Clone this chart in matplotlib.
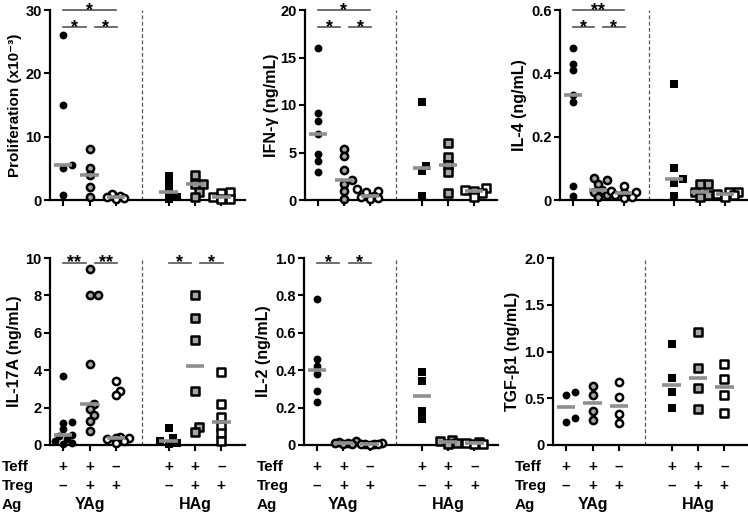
import numpy as np
import matplotlib.pyplot as plt
from matplotlib.transforms import blended_transform_factory

plt.rcParams['font.family'] = ['Liberation Sans', 'DejaVu Sans']
plt.rcParams['font.weight'] = 'bold'

# groups: YAg (Teff, Teff+Treg, Treg) | HAg (Teff, Teff+Treg, Treg)
positions = [1, 2, 3, 5, 6, 7]
teff_signs = ['+', '+', '–', '+', '+', '–']
treg_signs = ['–', '+', '+', '–', '+', '+']
ag_labels = ['YAg', 'HAg']
ag_centers = [2, 6]

# values per group
prolif = [[26.1, 15.0, 5.5, 5.1, 0.8],
          [8.0, 5.1, 3.9, 2.0, 0.5],
          [0.9, 0.7, 0.4, 0.3, 0.1],
          [3.8, 2.6, 1.2, 0.4, 0.1],
          [3.9, 2.6, 2.5, 1.3, 0.5],
          [1.3, 1.1, 0.5, 0.2, 0.1]]
ifng = [[16.0, 9.2, 8.3, 6.9, 4.8, 4.1, 2.9],
        [5.4, 4.6, 3.2, 2.1, 1.7, 0.9, 0.1],
        [1.2, 1.0, 0.8, 0.4, 0.3, 0.2, 0.1],
        [10.3, 3.6, 3.1, 0.4],
        [6.0, 4.5, 3.7, 3.0, 0.7],
        [1.3, 1.1, 1.0, 0.7, 0.3]]
il4 = [[0.48, 0.43, 0.41, 0.33, 0.31, 0.044, 0.014],
       [0.068, 0.064, 0.052, 0.032, 0.025, 0.015, 0.008],
       [0.045, 0.028, 0.026, 0.022, 0.015, 0.01, 0.005],
       [0.365, 0.1, 0.065, 0.055, 0.012],
       [0.05, 0.05, 0.026, 0.015, 0.008],
       [0.025, 0.024, 0.02, 0.015, 0.01]]
il17a = [[3.7, 1.25, 1.2, 0.85, 0.55, 0.5, 0.3, 0.2, 0.1, 0.05],
         [9.4, 8.0, 8.0, 4.35, 2.2, 1.9, 1.6, 1.3, 0.75],
         [3.4, 2.9, 2.65, 0.42, 0.4, 0.35, 0.3, 0.2, 0.1],
         [0.9, 0.35, 0.2, 0.1, 0.05],
         [8.0, 6.8, 5.6, 2.9, 0.95, 0.7],
         [3.9, 2.2, 1.5, 1.0, 0.65, 0.2]]
il2 = [[0.78, 0.46, 0.42, 0.38, 0.29, 0.23],
       [0.02, 0.015, 0.012, 0.01, 0.008, 0.005],
       [0.01, 0.008, 0.006, 0.005, 0.004, 0.002],
       [0.39, 0.34, 0.18, 0.14],
       [0.025, 0.02, 0.01, 0.005],
       [0.015, 0.012, 0.008, 0.005]]
tgfb1 = [[0.57, 0.53, 0.29, 0.25],
         [0.63, 0.54, 0.36, 0.27],
         [0.67, 0.51, 0.33, 0.24],
         [1.08, 0.72, 0.57, 0.40],
         [1.21, 0.82, 0.61, 0.39],
         [0.87, 0.71, 0.54, 0.34]]

# y axis setup
ylabels = ['Proliferation (x10⁻³)', 'IFN-γ (ng/mL)', 'IL-4 (ng/mL)',
           'IL-17A (ng/mL)', 'IL-2 (ng/mL)', 'TGF-β1 (ng/mL)']
yticks = [[0, 10, 20, 30], [0, 5, 10, 15, 20], [0, 0.2, 0.4, 0.6],
          [0, 2, 4, 6, 8, 10], [0, 0.2, 0.4, 0.6, 0.8, 1.0], [0, 0.5, 1.0, 1.5, 2.0]]
yticklabels = [['0', '10', '20', '30'], ['0', '5', '10', '15', '20'],
               ['0', '0.2', '0.4', '0.6'], ['0', '2', '4', '6', '8', '10'],
               ['0', '0.2', '0.4', '0.6', '0.8', '1.0'], ['0', '0.5', '1.0', '1.5', '2.0']]

# significance comparisons (group a, group b, label)
sig_prolif = [(1, 3, '*'), (1, 2, '*'), (2, 3, '*')]
sig_ifng = [(1, 3, '*'), (1, 2, '*'), (2, 3, '*')]
sig_il4 = [(1, 3, '**'), (1, 2, '*'), (2, 3, '*')]
sig_il17a = [(1, 2, '**'), (2, 3, '**'), (5, 6, '*'), (6, 7, '*')]
sig_il2 = [(1, 2, '*'), (2, 3, '*')]
sig_tgfb1 = []

panels = [prolif, ifng, il4, il17a, il2, tgfb1]
sigs = [sig_prolif, sig_ifng, sig_il4, sig_il17a, sig_il2, sig_tgfb1]

# axes boxes in pixels (left, right, top, bottom)
W, H = 748, 513
boxes = [(50, 245, 10, 200), (305, 497, 10, 200), (560, 748, 10, 200),
         (50, 245, 258, 445), (304, 498, 258, 445), (553, 748, 258, 445)]
ylab_dx = [-28, -26, -33, -28, -33, -33]
row_dx = [-48, -47, -38]

faces = ['black', '#a6a6a6', 'white', 'black', '#a6a6a6', 'white']
markers = ['o', 'o', 'o', 's', 's', 's']


def swarm_x(ax, x0, values, diam):
    # spread overlapping points sideways, GraphPad style
    xy = np.column_stack([np.full(len(values), x0), values])
    ypix = ax.transData.transform(xy)[:, 1]
    cands = [0.0]
    for k in range(1, 4):
        cands += [k * 0.5 * diam, -k * 0.5 * diam]
    placed = []
    offs = np.zeros(len(values))
    for i in np.argsort(ypix):
        best, best_d = 0.0, -1.0
        for c in cands:
            d = min([np.hypot(c - px, ypix[i] - py) for px, py in placed] + [1e9])
            if d >= 0.68 * diam:
                best = c
                break
            if d > best_d + 0.5:
                best, best_d = c, d
        placed.append((best, ypix[i]))
        offs[i] = best
    x0_, x1_ = ax.get_xlim()
    return x0 + offs * (x1_ - x0_) / ax.bbox.width


fig = plt.figure(figsize=(W / 100, H / 100), dpi=100)

for p, data in enumerate(panels):
    l, r, t, b = boxes[p]
    ax = fig.add_axes([l / W, (H - b) / H, (r - l) / W, (b - t) / H])
    ymax = yticks[p][-1]
    ax.set_xlim(0.5, 7.9)
    ax.set_ylim(0, ymax)

    for g, vals in enumerate(data):
        x0 = positions[g]
        xs = swarm_x(ax, x0, vals, 8.5)
        if faces[g] == 'black':
            ax.scatter(xs, vals, s=32, marker=markers[g], color='black', linewidths=0,
                       clip_on=False, zorder=3)
        else:
            ax.scatter(xs, vals, s=27, marker=markers[g], facecolor=faces[g],
                       edgecolor='black', linewidths=1.8, clip_on=False, zorder=3)
        ax.hlines(np.median(vals), x0 - 0.35, x0 + 0.35, color='#8f8f8f', lw=2.6,
                  zorder=4, clip_on=False)

    # divider between YAg and HAg
    ax.axvline(4, color='#555555', lw=0.9, ls=(0, (3, 2)), zorder=1)

    # significance bars
    for a, bb, lab in sigs[p]:
        if bb - a > 1:
            level, x1, x2 = ymax, a, bb
        else:
            level = ymax * (0.91 if p < 3 else 0.975)
            if a in (1, 5):
                x1, x2 = a, bb - 0.15
            else:
                x1, x2 = a + 0.2, bb + 0.05
        ax.plot([x1, x2], [level, level], color='#555555', lw=1.2, clip_on=False)
        ax.annotate(lab, xy=((x1 + x2) / 2, level), xytext=(0, -3.5),
                    textcoords='offset points', ha='center', va='baseline',
                    fontsize=13, fontweight='bold', annotation_clip=False)

    ax.set_yticks(yticks[p])
    ax.set_yticklabels(yticklabels[p])
    ax.set_xticks(positions)
    ax.set_xticklabels([])
    ax.tick_params(width=1.5, length=4, labelsize=10.5, pad=2)
    for side in ['top', 'right']:
        ax.spines[side].set_visible(False)
    for side in ['left', 'bottom']:
        ax.spines[side].set_linewidth(1.6)
    ax.set_ylabel(ylabels[p], fontsize=11.5 if p else 11, fontweight='bold')
    ax.yaxis.set_label_coords(ylab_dx[p] / (r - l), 0.5)

    # condition table under the bottom row
    if p >= 3:
        trans = blended_transform_factory(ax.transData, ax.transAxes)
        h = b - t
        rows_y = [-22 / h, -41 / h, -60 / h]
        lx = row_dx[p - 3] / (r - l)
        for txt, yy in zip(['Teff', 'Treg', 'Ag'], rows_y):
            ax.text(lx, yy, txt, transform=ax.transAxes, ha='left', va='center',
                    fontsize=11, fontweight='bold')
        for g in range(6):
            ax.text(positions[g], rows_y[0], teff_signs[g], transform=trans,
                    ha='center', va='center', fontsize=11, fontweight='bold')
            ax.text(positions[g], rows_y[1], treg_signs[g], transform=trans,
                    ha='center', va='center', fontsize=11, fontweight='bold')
        for lab, xc in zip(ag_labels, ag_centers):
            ax.text(xc, rows_y[2], lab, transform=trans, ha='center', va='center',
                    fontsize=11.5, fontweight='bold')

fig.savefig('out.png', dpi=100)
